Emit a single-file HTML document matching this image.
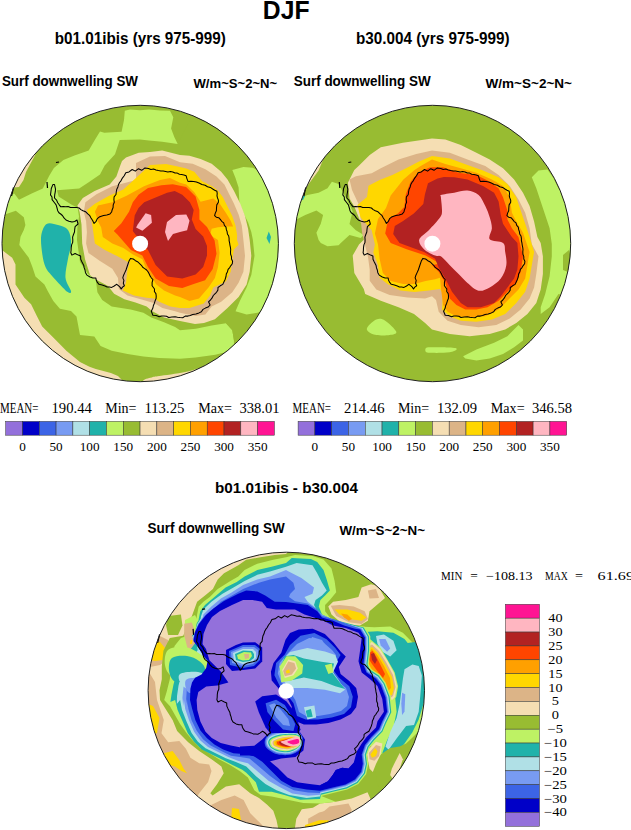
<!DOCTYPE html>
<html><head><meta charset="utf-8"><style>
html,body{margin:0;padding:0;background:#fff;width:631px;height:830px;overflow:hidden}
svg{display:block}
</style></head><body>
<svg width="631" height="830" viewBox="0 0 631 830">
<text x="262.8" y="18.8" font-family="Liberation Sans" font-size="26.5" font-weight="bold" textLength="46.7" lengthAdjust="spacingAndGlyphs">DJF</text>
<text x="54.8" y="43.8" font-family="Liberation Sans" font-size="15.6" font-weight="bold" textLength="171.0" lengthAdjust="spacingAndGlyphs">b01.01ibis (yrs 975-999)</text>
<text x="356" y="43.8" font-family="Liberation Sans" font-size="15.6" font-weight="bold" textLength="153.5" lengthAdjust="spacingAndGlyphs">b30.004 (yrs 975-999)</text>
<text x="1.9" y="85.5" font-family="Liberation Sans" font-size="13.8" font-weight="bold" textLength="136.1" lengthAdjust="spacingAndGlyphs">Surf downwelling SW</text>
<text x="193.5" y="87.7" font-family="Liberation Sans" font-size="13.3" font-weight="bold" textLength="83.7" lengthAdjust="spacingAndGlyphs">W/m~S~2~N~</text>
<text x="293.7" y="85.5" font-family="Liberation Sans" font-size="13.8" font-weight="bold" textLength="137.0" lengthAdjust="spacingAndGlyphs">Surf downwelling SW</text>
<text x="485.6" y="87.7" font-family="Liberation Sans" font-size="13.3" font-weight="bold" textLength="86.4" lengthAdjust="spacingAndGlyphs">W/m~S~2~N~</text>
<text x="215" y="492.8" font-family="Liberation Sans" font-size="15" font-weight="bold" textLength="143.0" lengthAdjust="spacingAndGlyphs">b01.01ibis - b30.004</text>
<text x="147.6" y="533.3" font-family="Liberation Sans" font-size="13.8" font-weight="bold" textLength="137.1" lengthAdjust="spacingAndGlyphs">Surf downwelling SW</text>
<text x="339.5" y="535" font-family="Liberation Sans" font-size="13.3" font-weight="bold" textLength="85.5" lengthAdjust="spacingAndGlyphs">W/m~S~2~N~</text>
<clipPath id="c1"><circle cx="140.2" cy="243.5" r="138.2"/></clipPath>
<g clip-path="url(#c1)">
<path d="M-20.0,80.0 L320.0,80.0 L320.0,420.0 L-20.0,420.0Z" fill="#98bc32"/>
<path d="M37.0,150.0 L34.9,155.4 L26.0,172.0 L23.5,180.0 L19.0,187.0 L14.0,187.5 L10.0,190.0 L-5.0,195.0 L10.0,150.0Z" fill="#f5deb3"/>
<path d="M-10.0,248.0 L3.3,251.1 L12.2,257.8 L15.5,264.4 L15.5,284.4 L24.4,297.7 L31.1,304.3 L36.6,315.4 L42.2,326.5 L55.5,339.8 L66.6,350.9 L80.0,362.0 L89.5,366.7 L95.8,369.0 L110.9,373.0 L118.0,376.0 L124.0,382.0 L124.0,400.0 L-10.0,400.0Z" fill="#f5deb3"/>
<path d="M142.3,382.0 C143.9,378.2 148.6,378.4 151.8,377.4 C155.0,376.4 154.9,376.9 161.3,375.8 C167.7,374.7 181.1,373.3 190.0,371.0 C198.9,368.7 206.7,365.5 215.0,362.0 C223.3,358.5 232.5,353.3 240.0,350.0 C247.5,346.7 253.3,344.0 260.0,342.0 C266.7,340.0 275.0,328.3 280.0,338.0 C285.0,347.7 313.0,389.7 290.0,400.0 C267.0,410.3 166.6,403.0 142.0,400.0 C117.4,397.0 140.7,385.8 142.3,382.0Z" fill="#f5deb3"/>
<path d="M177.7,144.0 L174.4,137.3 L171.1,128.4 L173.3,117.3 L170.0,110.7 L160.0,110.5 L149.0,109.6 L140.0,110.2 L130.0,109.5 L124.8,110.7 L124.0,120.0 L121.6,131.7 L104.3,132.8 L100.0,131.6 L95.1,139.5 L88.7,150.6 L74.5,155.4 L63.4,160.1 L53.9,168.0 L49.1,176.0 L42.8,188.6 L31.7,193.4 L19.0,199.7 L14.3,193.4 L6.3,196.6 L0.0,205.0 L6.3,214.0 L15.8,210.8 L23.8,217.2 L25.4,225.1 L23.8,230.0 L20.5,236.7 L19.3,245.0 L22.2,248.9 L28.8,257.8 L32.2,266.6 L35.5,276.6 L44.4,284.4 L47.7,291.0 L53.3,301.0 L59.9,308.8 L71.0,311.0 L76.5,316.5 L78.8,328.7 L80.0,335.0 L94.3,336.6 L100.6,346.1 L111.7,350.8 L127.5,354.0 L143.4,356.4 L159.2,358.0 L180.0,358.7 L195.5,357.6 L215.4,354.7 L231.0,350.7 L234.0,345.0 L233.9,340.0 L232.3,330.3 L226.0,323.2 L200.0,250.0 L180.0,180.0Z" fill="#bef264"/>
<path d="M46.6,223.9 C49.4,222.1 54.4,224.0 58.0,225.0 C61.6,226.0 65.8,226.9 68.0,230.0 C70.2,233.1 71.1,238.5 71.1,243.4 C71.1,248.3 68.8,253.5 67.9,259.2 C67.0,264.9 65.0,272.4 65.5,277.7 C66.0,283.0 70.6,288.6 71.0,291.0 C71.4,293.4 69.9,293.6 67.7,292.1 C65.5,290.6 60.5,285.1 57.7,282.2 C54.9,279.3 53.0,277.3 51.0,274.8 C49.0,272.3 47.1,270.6 45.6,267.2 C44.1,263.8 43.0,259.4 42.3,254.2 C41.6,249.0 40.5,240.9 41.2,235.8 C41.9,230.8 43.8,225.7 46.6,223.9Z" fill="#20b2aa"/>
<path d="M177.7,144.0 L162.2,141.7 L148.9,140.6 L140.0,139.5 L119.7,140.0 L115.0,154.3 L104.7,165.4 L100.0,174.4 L88.7,182.3 L79.2,188.6 L57.0,190.2 L58.6,196.6 L71.3,204.5 L77.7,207.7 L79.0,216.5 L77.4,227.5 L77.0,240.0 L80.0,262.0 L88.0,274.0 L95.8,279.5 L97.4,292.2 L102.2,300.1 L111.7,306.5 L130.7,309.6 L143.4,312.8 L151.3,317.5 L164.0,322.3 L175.1,327.1 L180.0,330.3 L195.8,328.7 L211.7,325.6 L226.0,323.2 L232.3,330.3 L233.9,340.0 L245.0,330.0 L300.0,320.0 L300.0,100.0 L200.0,100.0Z" fill="#98bc32"/>
<path d="M232.3,170.1 L243.4,166.9 L252.9,167.7 L290.0,190.0 L290.0,320.0 L270.0,308.0 L264.0,311.3 L256.1,312.9 L246.6,314.5 L235.5,311.3 L240.2,300.2 L246.6,287.5 L251.3,274.9 L254.5,255.8 L252.9,240.0 L251.3,231.9 L248.1,222.4 L243.4,212.9 L239.4,203.4 L238.6,187.5 L235.5,178.0Z" fill="#bef264"/>
<path d="M268.8,231.5 L271.0,237.0 L269.5,244.0 L266.5,238.0Z" fill="#20b2aa"/>
<path d="M126.0,157.4 L138.7,152.7 L150.0,151.9 L162.2,150.6 L180.0,155.1 L189.5,155.8 L200.6,159.0 L211.7,163.8 L221.2,171.7 L227.5,179.6 L233.9,190.7 L240.2,203.4 L245.0,216.1 L248.1,228.7 L249.7,240.0 L251.3,255.8 L249.7,271.7 L246.6,284.4 L238.6,297.1 L227.5,308.1 L214.9,319.2 L204.0,323.0 L195.0,324.0 L180.0,321.0 L164.0,317.5 L152.0,311.0 L146.6,306.5 L135.5,302.5 L124.4,299.3 L114.1,293.8 L108.0,286.0 L95.0,279.0 L90.0,275.0 L85.0,259.2 L82.2,243.4 L81.5,224.4 L79.6,211.7 L77.4,205.4 L82.8,198.0 L94.6,190.9 L109.7,184.6 L116.4,176.5 L119.7,167.0 L122.0,161.0Z" fill="#f5deb3"/>
<path d="M136.1,180.0 L136.0,163.0 L150.0,156.5 L165.0,156.0 L180.0,162.2 L192.7,163.8 L205.4,169.3 L216.5,176.5 L224.4,184.4 L229.1,193.9 L233.9,203.4 L238.6,214.5 L241.8,225.6 L243.4,240.0 L245.0,255.8 L243.4,271.7 L238.6,282.8 L232.3,292.3 L221.2,301.8 L211.7,306.6 L205.4,314.5 L195.8,316.1 L180.0,312.8 L175.1,311.2 L162.4,308.0 L154.5,303.3 L143.4,300.1 L127.5,295.4 L118.8,289.0 L118.0,277.9 L112.3,268.7 L99.6,260.8 L88.5,252.9 L86.1,243.4 L86.9,232.3 L86.1,221.2 L83.8,211.7 L85.4,202.2 L96.5,194.3 L112.3,186.3Z" fill="#dcb487"/>
<path d="M139.2,175.0 L150.0,165.0 L166.0,164.0 L180.0,166.9 L186.3,168.5 L194.3,171.7 L202.2,181.2 L211.7,186.0 L218.0,190.7 L222.8,197.1 L227.5,206.6 L232.3,216.1 L235.5,225.6 L237.1,235.1 L237.0,240.0 L238.6,244.8 L233.9,249.5 L232.3,259.0 L230.7,271.7 L226.0,281.2 L213.3,287.5 L210.1,295.5 L203.8,303.4 L189.5,308.1 L180.0,308.0 L170.3,306.5 L159.2,301.7 L154.5,298.5 L146.6,297.7 L133.9,295.4 L122.8,290.6 L126.0,282.7 L127.5,270.0 L129.7,263.0 L117.1,256.1 L104.4,249.7 L94.9,243.4 L93.3,232.3 L91.7,221.2 L86.9,210.1 L94.9,203.8 L109.1,195.8 L123.4,189.5Z" fill="#ffd700"/>
<path d="M144.0,186.3 L160.0,180.0 L170.0,178.0 L180.0,182.8 L186.3,184.4 L194.3,192.3 L200.6,201.8 L213.3,198.6 L219.6,203.4 L226.0,212.9 L230.7,220.8 L233.1,226.4 L226.0,226.4 L218.0,227.2 L211.7,228.7 L210.1,235.1 L218.0,240.0 L219.6,252.7 L218.0,266.9 L214.9,278.0 L208.5,287.5 L199.0,298.6 L189.5,301.0 L180.0,297.0 L175.1,295.4 L164.0,290.6 L156.1,284.3 L151.3,276.3 L146.6,270.0 L142.4,259.2 L132.9,254.5 L123.4,248.1 L112.3,243.4 L102.8,237.1 L101.2,227.5 L98.0,221.2 L94.9,211.7 L98.0,205.4 L112.3,202.2 L126.6,195.8Z" fill="#ffa000"/>
<path d="M138.5,194.7 L148.0,188.1 L161.4,185.2 L172.8,184.3 L186.1,187.1 L195.6,196.6 L199.4,209.9 L199.4,219.4 L207.0,227.1 L214.6,240.4 L216.5,253.7 L212.7,268.9 L205.1,280.3 L193.7,284.1 L182.3,287.9 L169.0,286.0 L155.6,278.4 L148.0,267.0 L142.3,255.6 L130.9,249.9 L117.6,234.7 L113.8,230.9 L121.4,223.3 L129.0,211.8 L132.8,202.3Z" fill="#ff4500"/>
<path d="M144.2,202.3 L155.6,197.6 L167.1,192.8 L174.7,190.9 L182.3,194.7 L189.9,202.3 L193.7,209.9 L191.8,219.4 L195.6,229.0 L203.2,236.6 L207.0,246.1 L207.0,255.6 L203.2,267.0 L195.6,274.6 L182.3,278.4 L167.1,276.5 L155.6,265.1 L148.0,249.9 L138.5,238.5 L132.8,230.9 L134.7,215.6 L138.5,208.0Z" fill="#b22222"/>
<path d="M137.7,224.4 L145.6,213.3 L151.1,214.9 L151.9,222.8 L142.4,230.7 L136.1,227.5Z" fill="#ffb6c1"/>
<path d="M167.0,222.0 L176.0,215.0 L186.3,214.5 L189.5,220.8 L187.1,230.3 L180.0,231.9 L173.0,234.0 L168.0,241.0 L165.0,232.0Z" fill="#ffb6c1"/>
</g>
<path d="M54.5,184.5 L55.0,186.9 L55.5,189.2 L55.3,191.7 L54.7,194.8 L54.5,198.0 L56.6,200.1 L57.7,202.8 L59.2,204.8 L60.8,206.8 L63.2,206.6 L65.6,206.8 L68.1,206.5 L70.4,207.5 L73.6,207.5 L76.7,207.5 L79.1,208.0 L80.9,209.6 L83.0,210.7 L85.7,211.8 L87.8,213.9 L89.8,215.7 L91.0,218.0 L92.5,220.2 L94.1,223.4 L96.1,221.3 L97.3,218.6 L99.2,217.1 L101.3,216.2 L103.6,215.5 L106.8,214.9 L110.0,213.9 L111.6,212.0 L112.2,209.7 L113.1,207.5 L113.2,204.9 L114.3,202.3 L113.9,199.6 L114.1,196.8 L116.0,194.5 L116.3,191.7 L116.8,189.2 L117.9,186.9 L118.5,184.6 L119.6,182.5 L121.1,180.6 L122.4,178.1 L124.2,175.8 L125.8,172.7 L129.0,171.9 L132.2,169.5 L135.3,171.1 L138.5,168.7 L141.7,170.3 L145.0,167.9 L148.5,168.5 L150.9,169.4 L153.6,169.1 L156.0,170.0 L158.4,170.5 L160.8,170.9 L163.2,170.9 L165.6,171.4 L167.9,171.9 L170.4,171.6 L172.8,172.0 L175.0,173.0 L177.3,173.1 L179.4,174.3 L181.7,174.5 L183.9,174.9 L186.1,175.7 L186.9,178.6 L188.0,181.4 L190.8,181.3 L193.7,181.4 L196.4,181.9 L199.0,183.0 L201.9,184.5 L205.1,185.2 L207.5,186.7 L210.3,187.4 L212.7,189.0 L214.7,190.2 L216.9,191.3 L217.2,193.5 L217.0,195.8 L217.5,197.9 L218.4,200.1 L218.4,202.3 L216.8,204.9 L216.5,208.0 L216.4,210.7 L215.3,213.1 L214.6,215.6 L216.3,217.2 L218.7,217.7 L220.3,219.4 L221.7,221.3 L223.7,222.9 L224.4,225.3 L226.0,227.1 L226.3,229.4 L227.1,231.6 L227.4,234.0 L228.7,236.0 L229.1,238.3 L229.1,240.6 L229.6,242.8 L229.9,245.0 L230.4,247.3 L230.7,249.5 L230.5,251.9 L230.6,254.3 L231.5,256.6 L231.5,259.1 L232.6,261.3 L232.3,263.8 L230.9,265.6 L229.7,267.6 L228.1,269.4 L227.5,271.7 L226.3,274.0 L226.0,276.5 L225.2,279.2 L224.0,281.8 L222.8,284.4 L220.3,285.8 L218.0,287.5 L217.9,290.1 L216.5,292.3 L214.9,293.9 L213.3,295.5 L212.1,297.9 L210.5,300.0 L208.5,301.8 L210.1,305.0 L208.1,307.1 L205.4,308.1 L203.0,309.4 L201.4,311.7 L199.0,312.9 L195.9,314.0 L192.7,314.5 L190.3,315.4 L187.9,316.1 L185.2,316.1 L182.7,317.7 L180.0,317.6 L177.5,317.3 L175.1,316.8 L171.9,317.1 L168.7,317.5 L166.5,316.2 L164.0,316.0 L161.5,316.0 L159.2,316.8 L156.2,315.5 L152.9,315.2 L151.3,311.2 L152.9,308.0 L153.4,305.5 L154.4,303.2 L155.1,300.8 L156.1,298.5 L156.2,296.0 L155.9,293.6 L154.4,291.5 L154.5,289.0 L152.1,285.8 L152.1,282.6 L152.9,279.5 L151.3,277.8 L150.1,275.9 L149.1,273.8 L148.0,271.8 L146.6,270.0 L144.7,268.6 L142.7,267.3 L141.4,265.3 L139.6,263.7 L138.0,262.0 L135.5,260.7 L133.3,259.0 L130.5,258.4 L129.0,261.1 L128.0,264.0 L127.0,267.0 L126.0,270.0 L124.8,272.6 L123.6,275.2 L122.8,277.9 L123.9,280.4 L123.3,283.3 L124.4,285.8 L122.5,287.1 L121.2,289.0 L120.0,287.1 L118.4,285.6 L116.5,284.3 L114.2,286.0 L111.7,287.4 L109.4,287.1 L107.1,287.0 L105.0,286.0 L102.1,285.0 L99.0,284.3 L97.4,282.4 L96.3,280.3 L95.8,277.9 L92.8,277.9 L90.0,277.0 L86.9,275.1 L85.5,272.7 L85.0,270.0 L84.2,267.9 L83.8,265.6 L82.0,262.0 L80.7,259.2 L80.6,256.1 L78.3,255.1 L75.1,253.5 L71.9,255.1 L70.8,252.8 L71.1,250.3 L71.2,247.6 L71.6,244.9 L72.7,242.4 L72.8,239.7 L72.6,237.1 L73.5,234.5 L74.5,232.0 L74.7,229.3 L75.1,226.6 L78.0,224.0 L77.0,220.0 L74.7,221.5 L72.0,222.0 L68.9,221.3 L66.0,220.0 L64.0,217.9 L62.4,215.5 L60.7,214.0 L58.9,212.7 L57.7,210.7 L56.9,207.5 L56.1,204.9 L54.5,202.8 L52.1,199.6 L52.0,197.0 L50.5,194.9 L50.9,191.7 L51.3,188.5 L52.9,184.6Z" fill="none" stroke="#000" stroke-width="1.05" stroke-linejoin="round"/><path d="M56.0,162.5 L59.0,162.0" stroke="#000" stroke-width="1.2"/><path d="M47.0,182.0 L47.5,188.0" stroke="#000" stroke-width="1.2"/><path d="M13.5,187.5 L11.5,196.0" stroke="#000" stroke-width="1.2"/><circle cx="140.1" cy="243.7" r="8" fill="#fff"/>
<circle cx="140.2" cy="243.5" r="138.2" fill="none" stroke="#222" stroke-width="1"/>
<clipPath id="c2"><circle cx="432.5" cy="243.5" r="138.2"/></clipPath>
<g clip-path="url(#c2)">
<path d="M280.0,80.0 L600.0,80.0 L600.0,420.0 L280.0,420.0Z" fill="#98bc32"/>
<path d="M326.0,150.0 L323.1,159.5 L318.6,170.6 L312.0,179.4 L306.4,187.2 L298.0,190.0 L300.0,150.0Z" fill="#f5deb3"/>
<path d="M296.0,199.0 L300.9,197.2 L307.5,195.0 L318.6,192.7 L327.5,188.3 L331.9,181.7 L338.6,183.9 L346.3,198.5 L352.7,211.2 L351.1,217.5 L349.5,223.9 L355.8,230.2 L363.8,235.0 L360.6,238.1 L349.5,235.0 L340.8,243.0 L338.6,245.2 L327.5,246.3 L320.8,243.0 L318.6,240.0 L316.4,232.7 L320.8,223.8 L323.1,214.9 L316.4,210.5 L305.3,214.9 L296.4,219.4 L285.0,215.0Z" fill="#bef264"/>
<path d="M300.0,195.0 L305.0,196.0 L303.0,200.0 L299.0,200.0Z" fill="#20b2aa"/>
<path d="M432.0,138.4 L445.3,139.5 L460.8,145.0 L476.4,152.8 L489.7,159.5 L503.0,168.3 L514.1,179.4 L523.0,192.7 L529.6,206.1 L534.1,221.6 L537.4,237.1 L540.7,243.0 L542.9,256.3 L542.9,274.1 L540.7,289.6 L536.3,302.9 L527.4,314.0 L516.3,322.9 L505.2,329.5 L489.7,334.0 L469.7,336.2 L449.8,334.0 L432.0,329.5 L425.1,322.9 L414.0,314.0 L398.5,307.3 L380.8,300.7 L365.2,294.0 L363.8,288.9 L354.3,273.0 L352.7,255.6 L359.0,244.5 L370.1,233.4 L360.6,222.3 L354.3,206.5 L349.5,198.5 L347.9,182.7 L354.3,170.0 L358.6,166.1 L369.7,155.0 L380.8,147.3 L402.9,142.8Z" fill="#f5deb3"/>
<path d="M432.0,150.6 L449.8,152.8 L467.5,159.5 L485.3,166.1 L498.6,175.0 L509.7,186.1 L518.5,199.4 L525.2,212.7 L529.6,228.3 L531.8,244.0 L538.5,256.3 L536.3,274.1 L534.1,287.4 L529.6,298.5 L520.7,309.6 L509.7,318.4 L496.3,325.1 L478.6,327.3 L460.8,325.1 L447.5,320.7 L438.7,311.8 L436.0,300.0 L432.0,296.3 L425.1,298.5 L407.4,297.4 L389.6,295.1 L376.3,289.6 L369.7,280.7 L369.7,269.6 L368.0,257.0 L362.2,233.4 L359.0,204.9 L352.0,190.0 L349.5,179.5 L355.8,176.3 L371.7,173.2 L380.8,168.3 L398.5,159.5 L416.3,153.9Z" fill="#dcb487"/>
<path d="M432.0,156.1 L449.8,158.4 L467.5,165.0 L483.0,170.6 L498.6,177.2 L507.4,183.9 L516.3,197.2 L520.7,210.5 L525.2,223.8 L529.6,237.1 L534.1,251.9 L531.8,265.2 L529.6,278.5 L525.2,291.8 L516.3,302.9 L505.2,314.0 L491.9,319.5 L476.4,321.8 L460.8,320.7 L449.8,316.2 L442.0,309.6 L443.1,294.0 L440.0,288.9 L428.8,290.4 L414.5,292.0 L400.2,290.4 L387.5,284.1 L379.6,277.8 L378.0,265.1 L373.3,252.4 L374.9,244.5 L371.7,230.2 L360.6,217.5 L357.4,204.9 L367.0,197.0 L368.5,185.8 L379.6,180.0 L392.3,175.0 L406.6,168.0 L418.5,161.7Z" fill="#ffd700"/>
<path d="M432.0,159.5 L445.3,163.9 L460.8,168.3 L476.4,172.8 L491.9,179.4 L503.0,186.1 L509.7,197.2 L511.9,212.7 L516.3,221.6 L523.0,232.7 L529.6,251.9 L527.4,265.2 L525.2,278.5 L518.5,289.6 L507.4,300.7 L498.6,309.6 L485.3,316.2 L469.7,317.3 L456.4,316.2 L447.5,311.8 L443.1,305.1 L440.9,287.4 L440.0,277.8 L435.1,279.3 L425.6,280.9 L414.5,284.1 L403.4,284.1 L390.7,280.9 L382.8,273.0 L379.6,258.7 L378.0,244.5 L374.9,233.4 L378.0,219.1 L386.0,208.0 L390.7,195.4 L403.4,179.5 L414.5,170.0 L420.7,166.1Z" fill="#ffa000"/>
<path d="M432.0,167.2 L443.1,167.2 L458.6,172.8 L476.4,175.0 L487.5,180.5 L498.6,188.3 L503.0,197.2 L507.4,210.5 L507.4,219.4 L511.9,228.3 L518.5,237.1 L523.0,256.3 L520.7,271.8 L516.3,282.9 L507.4,291.8 L498.6,300.7 L487.5,307.3 L476.4,309.6 L465.3,309.6 L456.4,305.1 L449.8,298.5 L445.3,282.9 L438.7,271.8 L432.0,265.2 L440.0,263.5 L425.6,255.6 L406.6,249.2 L390.7,242.9 L385.2,233.4 L387.5,222.3 L390.0,218.0 L397.9,213.4 L404.3,207.1 L405.8,194.4 L410.6,181.7 L418.5,172.2 L429.6,167.4Z" fill="#ff4500"/>
<path d="M443.9,176.9 L454.2,177.2 L467.5,179.4 L483.0,186.1 L494.1,192.7 L498.6,201.6 L500.8,214.9 L503.0,223.8 L507.4,230.5 L511.9,237.1 L517.4,243.0 L518.5,256.3 L517.4,269.6 L514.1,278.5 L507.4,287.4 L500.8,296.3 L494.1,302.9 L480.8,307.3 L467.5,307.3 L460.8,302.9 L452.0,291.8 L445.3,278.5 L438.7,267.4 L435.1,258.7 L424.0,252.0 L413.0,248.0 L399.5,243.0 L393.2,234.0 L394.8,226.1 L402.7,221.3 L413.8,213.4 L423.3,203.9 L424.9,194.4 L428.0,183.3 L437.5,178.5Z" fill="#b22222"/>
<path d="M440.9,195.0 C443.1,194.2 449.8,193.4 454.2,192.7 C458.6,191.9 463.4,190.1 467.5,190.5 C471.6,190.9 475.6,192.4 478.6,195.0 C481.6,197.6 483.5,202.4 485.3,206.1 C487.1,209.8 488.6,213.5 489.7,217.2 C490.8,220.9 491.9,224.6 491.9,228.3 C491.9,232.0 487.8,236.9 489.7,239.3 C491.6,241.8 500.4,240.9 503.0,243.0 C505.6,245.1 504.6,248.2 505.2,251.9 C505.8,255.6 507.0,260.8 506.3,265.2 C505.6,269.6 503.6,274.8 500.8,278.5 C498.0,282.2 493.4,285.4 489.7,287.4 C486.0,289.4 482.3,291.4 478.6,290.7 C474.9,290.0 470.8,285.8 467.5,283.0 C464.2,280.2 461.6,277.1 458.6,274.1 C455.7,271.1 452.8,268.2 449.8,265.2 C446.9,262.2 443.3,257.9 440.9,256.3 C438.4,254.7 437.9,256.8 435.1,255.6 C432.3,254.4 426.6,251.8 424.0,249.2 C421.4,246.5 418.4,242.9 419.2,239.7 C420.0,236.5 425.3,233.9 428.8,230.2 C432.3,226.5 437.8,220.8 440.0,217.5 C442.2,214.2 441.9,213.9 442.0,210.5 C442.1,207.1 441.1,199.8 440.9,197.2 C440.7,194.6 438.7,195.8 440.9,195.0Z" fill="#ffb6c1"/>
<path d="M300.0,291.0 L306.0,305.0 L303.0,306.0 L296.0,292.0Z" fill="#f5deb3"/>
<path d="M531.8,177.2 L538.5,170.6 L547.4,169.5 L552.9,177.2 L558.5,188.3 L570.0,200.0 L580.0,300.0 L558.5,294.0 L549.6,307.3 L540.7,314.0 L540.7,307.3 L545.2,294.0 L549.6,276.3 L551.8,256.3 L551.8,244.0 L549.6,228.3 L545.2,214.9 L540.7,201.6 L536.3,188.3Z" fill="#bef264"/>
<path d="M563.0,255.0 L569.0,250.0 L572.0,262.0 L568.0,272.0 L563.0,270.0Z" fill="#98bc32"/>
<path d="M367.4,327.3 C368.7,325.2 373.3,320.6 376.3,319.5 C379.3,318.4 381.9,318.6 385.2,320.7 C388.5,322.8 395.6,329.4 396.3,331.8 C397.0,334.2 392.9,334.6 389.6,335.1 C386.3,335.7 379.8,335.7 376.3,335.1 C372.8,334.6 370.0,333.1 368.5,331.8 C367.0,330.5 366.1,329.4 367.4,327.3Z" fill="#bef264"/>
<path d="M463.1,356.2 L476.4,349.5 L494.1,342.8 L507.4,336.2 L518.5,325.1 L523.0,329.5 L523.0,340.6 L514.1,347.3 L503.0,354.0 L489.7,358.4 L476.4,360.6 L465.3,358.4Z" fill="#bef264"/>
<path d="M426.0,348.0 C427.0,347.2 429.1,347.4 432.0,347.3 C434.9,347.2 439.0,347.1 443.1,347.3 C447.2,347.5 454.9,347.7 456.4,348.4 C457.9,349.1 454.6,351.0 452.0,351.7 C449.4,352.4 444.2,352.6 440.9,352.8 C437.6,353.0 434.5,352.9 432.0,352.8 C429.5,352.7 427.0,352.8 426.0,352.0 C425.0,351.2 425.0,348.8 426.0,348.0Z" fill="#bef264"/>
</g>
<path d="M346.8,184.5 L347.3,186.9 L347.8,189.2 L347.6,191.7 L347.0,194.8 L346.8,198.0 L348.9,200.1 L350.0,202.8 L351.5,204.8 L353.1,206.8 L355.5,206.6 L357.9,206.8 L360.4,206.5 L362.7,207.5 L365.9,207.5 L369.0,207.5 L371.4,208.0 L373.2,209.6 L375.3,210.7 L378.0,211.8 L380.1,213.9 L382.1,215.7 L383.3,218.0 L384.8,220.2 L386.4,223.4 L388.4,221.3 L389.6,218.6 L391.5,217.1 L393.6,216.2 L395.9,215.5 L399.1,214.9 L402.3,213.9 L403.9,212.0 L404.5,209.7 L405.4,207.5 L405.5,204.9 L406.6,202.3 L406.2,199.6 L406.4,196.8 L408.3,194.5 L408.6,191.7 L409.1,189.2 L410.2,186.9 L410.8,184.6 L411.9,182.5 L413.4,180.6 L414.7,178.1 L416.5,175.8 L418.1,172.7 L421.3,171.9 L424.5,169.5 L427.6,171.1 L430.8,168.7 L434.0,170.3 L437.3,167.9 L440.8,168.5 L443.2,169.4 L445.9,169.1 L448.3,170.0 L450.7,170.5 L453.1,170.9 L455.5,170.9 L457.9,171.4 L460.2,171.9 L462.7,171.6 L465.1,172.0 L467.3,173.0 L469.6,173.1 L471.7,174.3 L474.0,174.5 L476.2,174.9 L478.4,175.7 L479.2,178.6 L480.3,181.4 L483.1,181.3 L486.0,181.4 L488.7,181.9 L491.3,183.0 L494.2,184.5 L497.4,185.2 L499.8,186.7 L502.6,187.4 L505.0,189.0 L507.0,190.2 L509.2,191.3 L509.5,193.5 L509.3,195.8 L509.8,197.9 L510.7,200.1 L510.7,202.3 L509.1,204.9 L508.8,208.0 L508.7,210.7 L507.6,213.1 L506.9,215.6 L508.6,217.2 L511.0,217.7 L512.6,219.4 L514.0,221.3 L516.0,222.9 L516.7,225.3 L518.3,227.1 L518.6,229.4 L519.4,231.6 L519.7,234.0 L521.0,236.0 L521.4,238.3 L521.4,240.6 L521.9,242.8 L522.2,245.0 L522.7,247.3 L523.0,249.5 L522.8,251.9 L522.9,254.3 L523.8,256.6 L523.8,259.1 L524.9,261.3 L524.6,263.8 L523.2,265.6 L522.0,267.6 L520.4,269.4 L519.8,271.7 L518.6,274.0 L518.3,276.5 L517.5,279.2 L516.3,281.8 L515.1,284.4 L512.6,285.8 L510.3,287.5 L510.2,290.1 L508.8,292.3 L507.2,293.9 L505.6,295.5 L504.4,297.9 L502.8,300.0 L500.8,301.8 L502.4,305.0 L500.4,307.1 L497.7,308.1 L495.3,309.4 L493.7,311.7 L491.3,312.9 L488.2,314.0 L485.0,314.5 L482.6,315.4 L480.2,316.1 L477.5,316.1 L475.0,317.7 L472.3,317.6 L469.8,317.3 L467.4,316.8 L464.2,317.1 L461.0,317.5 L458.8,316.2 L456.3,316.0 L453.8,316.0 L451.5,316.8 L448.5,315.5 L445.2,315.2 L443.6,311.2 L445.2,308.0 L445.7,305.5 L446.7,303.2 L447.4,300.8 L448.4,298.5 L448.5,296.0 L448.2,293.6 L446.7,291.5 L446.8,289.0 L444.4,285.8 L444.4,282.6 L445.2,279.5 L443.6,277.8 L442.4,275.9 L441.4,273.8 L440.3,271.8 L438.9,270.0 L437.0,268.6 L435.0,267.3 L433.7,265.3 L431.9,263.7 L430.3,262.0 L427.8,260.7 L425.6,259.0 L422.8,258.4 L421.3,261.1 L420.3,264.0 L419.3,267.0 L418.3,270.0 L417.1,272.6 L415.9,275.2 L415.1,277.9 L416.2,280.4 L415.6,283.3 L416.7,285.8 L414.8,287.1 L413.5,289.0 L412.3,287.1 L410.7,285.6 L408.8,284.3 L406.5,286.0 L404.0,287.4 L401.7,287.1 L399.4,287.0 L397.3,286.0 L394.4,285.0 L391.3,284.3 L389.7,282.4 L388.6,280.3 L388.1,277.9 L385.1,277.9 L382.3,277.0 L379.2,275.1 L377.8,272.7 L377.3,270.0 L376.5,267.9 L376.1,265.6 L374.3,262.0 L373.0,259.2 L372.9,256.1 L370.6,255.1 L367.4,253.5 L364.2,255.1 L363.1,252.8 L363.4,250.3 L363.5,247.6 L363.9,244.9 L365.0,242.4 L365.1,239.7 L364.9,237.1 L365.8,234.5 L366.8,232.0 L367.0,229.3 L367.4,226.6 L370.3,224.0 L369.3,220.0 L367.0,221.5 L364.3,222.0 L361.2,221.3 L358.3,220.0 L356.3,217.9 L354.7,215.5 L353.0,214.0 L351.2,212.7 L350.0,210.7 L349.2,207.5 L348.4,204.9 L346.8,202.8 L344.4,199.6 L344.3,197.0 L342.8,194.9 L343.2,191.7 L343.6,188.5 L345.2,184.6Z" fill="none" stroke="#000" stroke-width="1.05" stroke-linejoin="round"/><path d="M348.3,162.5 L351.3,162.0" stroke="#000" stroke-width="1.2"/><path d="M339.3,182.0 L339.8,188.0" stroke="#000" stroke-width="1.2"/><path d="M305.8,187.5 L303.8,196.0" stroke="#000" stroke-width="1.2"/><circle cx="432.4" cy="243.7" r="8" fill="#fff"/>
<circle cx="432.5" cy="243.5" r="138.2" fill="none" stroke="#222" stroke-width="1"/>
<clipPath id="c3"><circle cx="286.3" cy="690.4" r="138.2"/></clipPath>
<g clip-path="url(#c3)">
<path d="M140.0,540.0 L440.0,540.0 L440.0,840.0 L140.0,840.0Z" fill="#f5deb3"/>
<path d="M150.0,640.0 L154.0,634.9 L160.0,636.0 L168.0,640.0 L167.7,660.0 L160.0,665.0 L150.0,667.0Z" fill="#dcb487"/>
<path d="M153.5,641.0 L160.0,642.0 L165.0,648.0 L163.0,660.0 L155.0,661.0 L150.0,660.0Z" fill="#ffd700"/>
<path d="M140.0,670.0 L149.0,672.0 L155.0,682.0 L157.0,700.0 L163.8,720.0 L161.5,733.3 L168.2,742.2 L179.3,741.1 L185.9,748.8 L190.4,757.7 L199.2,763.3 L209.2,764.4 L211.5,771.0 L208.1,782.1 L199.2,793.2 L195.0,800.0 L140.0,800.0Z" fill="#dcb487"/>
<path d="M148.0,704.0 L153.0,706.0 L159.5,718.0 L157.0,733.0 L150.0,735.0Z" fill="#ffd700"/>
<path d="M163.8,753.3 L172.6,751.1 L179.3,760.0 L183.7,768.8 L187.0,773.3 L181.5,771.0 L174.8,766.6 L168.2,764.4Z" fill="#ffd700"/>
<path d="M197.0,797.0 L208.1,806.5 L221.4,799.9 L234.7,795.4 L243.6,799.9 L250.3,813.2 L261.4,824.3 L270.3,835.0 L190.0,835.0Z" fill="#dcb487"/>
<path d="M232.0,808.0 L239.0,809.0 L241.0,820.0 L231.0,822.0Z" fill="#ffd700"/>
<path d="M308.1,818.7 L319.2,812.4 L331.9,809.2 L340.0,807.7 L345.0,812.0 L342.0,825.0 L338.0,835.0 L308.1,835.0Z" fill="#dcb487"/>
<path d="M320.0,814.5 L329.5,806.6 L348.5,803.4 L351.7,809.7 L350.1,816.1 L335.8,819.2 L320.0,822.4Z" fill="#dcb487"/>
<path d="M305.0,825.1 L319.2,820.3 L328.7,820.3 L328.7,835.0 L305.0,835.0Z" fill="#ffd700"/>
<path d="M286.0,553.9 L300.0,540.0 L460.0,540.0 L460.0,840.0 L372.0,840.0 L371.0,800.0 L367.5,792.3 L351.7,798.6 L335.8,801.8 L320.0,803.4 L312.9,807.7 L301.8,809.2 L296.3,818.7 L293.9,835.0 L279.6,835.0 L276.5,820.3 L273.3,810.8 L266.9,804.5 L259.0,798.1 L250.3,793.2 L239.2,784.3 L225.9,786.6 L212.6,795.4 L210.3,793.2 L217.0,784.3 L223.7,773.3 L221.4,766.6 L212.6,759.9 L199.2,751.1 L188.2,742.2 L177.1,731.1 L172.6,720.0 L165.0,708.0 L160.0,700.0 L159.5,690.3 L161.8,679.2 L161.8,666.6 L163.4,650.7 L169.8,638.0 L183.2,635.7 L192.0,615.8 L197.1,601.7 L205.0,595.4 L212.9,589.0 L217.7,579.5 L224.0,573.2 L238.3,565.3 L246.2,559.7 L260.5,557.3 L274.7,555.0Z" fill="#98bc32"/>
<path d="M168.2,616.0 L180.9,614.4 L182.5,625.5 L178.0,635.0 L168.2,634.9 L166.0,625.0Z" fill="#98bc32"/>
<path d="M328.3,606.5 L333.1,601.7 L345.7,600.1 L358.4,597.0 L361.6,587.5 L371.1,584.3 L378.0,586.0 L385.0,598.0 L369.5,611.2 L367.9,620.7 L360.0,625.5 L342.6,623.9 L331.5,614.4Z" fill="#f5deb3"/>
<path d="M367.9,590.6 L376.0,589.0 L379.0,598.0 L369.5,598.5Z" fill="#dcb487"/>
<path d="M330.7,605.7 L339.4,604.9 L353.7,606.5 L364.7,611.2 L367.9,619.1 L361.6,623.9 L348.9,622.3 L336.2,616.0Z" fill="#dcb487"/>
<path d="M334.6,609.6 L347.3,609.6 L360.0,612.8 L366.3,617.6 L361.6,620.7 L348.9,619.1 L339.4,614.4Z" fill="#ffd700"/>
<path d="M341.0,613.6 L347.3,614.4 L352.1,619.1 L348.9,620.7 L344.1,617.6Z" fill="#ffa000"/>
<path d="M352.0,626.0 L358.5,626.5 L374.4,627.2 L390.2,626.5 L402.9,632.8 L412.0,642.0 L420.0,660.0 L430.0,700.0 L430.0,760.0 L420.0,770.0 L385.0,760.0 L370.0,745.0 L372.0,700.0 L368.0,660.0 L360.0,640.0Z" fill="#bef264"/>
<path d="M364.0,632.0 L377.5,631.2 L393.4,632.8 L404.5,639.1 L407.7,643.0 L415.0,642.0 L432.0,660.0 L432.0,700.0 L425.1,700.0 L423.5,703.8 L418.7,719.6 L412.4,732.3 L404.5,743.4 L395.0,754.5 L385.5,759.2 L382.3,752.9 L387.1,740.2 L393.4,727.5 L396.6,711.7 L395.0,695.8 L385.0,685.0 L370.0,670.0 L366.0,650.0Z" fill="#20b2aa"/>
<path d="M376.0,636.0 L383.9,634.4 L393.4,640.7 L396.6,650.2 L390.2,656.6 L382.3,651.8 L377.5,643.9Z" fill="#b0e0e6"/>
<path d="M379.1,639.1 L385.5,639.1 L390.2,648.6 L387.1,651.8 L380.7,645.5Z" fill="#789bf2"/>
<path d="M404.5,669.2 L412.4,664.5 L418.7,666.1 L421.9,675.6 L420.3,695.8 L418.7,711.7 L414.0,725.0 L406.1,726.0 L396.6,738.6 L388.6,749.7 L385.5,746.6 L390.2,732.3 L396.6,718.0 L399.7,703.8 L402.9,678.7Z" fill="#b0e0e6"/>
<path d="M402.1,692.7 L405.3,694.3 L404.5,711.7 L402.1,714.9 L401.3,703.8Z" fill="#789bf2"/>
<path d="M361.5,642.7 L370.2,639.2 L380.7,647.9 L387.6,660.1 L394.6,672.3 L398.1,686.2 L396.3,696.7 L391.1,703.7 L384.1,701.9 L377.2,689.7 L370.2,677.5 L363.2,667.1 L359.7,654.9Z" fill="#bef264"/>
<path d="M366.0,645.0 L372.0,642.0 L380.0,649.0 L387.0,660.0 L394.0,673.0 L397.0,686.0 L395.0,697.0 L390.0,702.0 L384.0,699.0 L377.0,688.0 L370.0,676.0 L364.0,666.0 L362.0,655.0Z" fill="#f5deb3"/>
<path d="M367.0,647.0 L372.0,644.5 L379.0,651.0 L386.0,662.0 L393.0,675.0 L395.5,687.0 L393.0,696.0 L389.0,699.0 L384.0,695.0 L378.0,686.0 L371.0,675.0 L365.5,665.0 L364.0,656.0Z" fill="#dcb487"/>
<path d="M368.0,649.0 L372.0,647.0 L378.0,653.0 L385.0,664.0 L392.0,677.0 L394.0,688.0 L392.0,695.0 L388.0,696.0 L384.0,690.0 L378.0,683.0 L372.0,673.0 L367.0,664.0 L366.0,657.0Z" fill="#ffd700"/>
<path d="M368.5,651.0 L372.0,649.0 L378.0,656.0 L384.0,666.0 L390.0,678.0 L391.0,688.0 L388.0,691.0 L384.0,685.0 L378.0,678.0 L371.0,668.0 L367.0,660.0Z" fill="#ffa000"/>
<path d="M368.5,653.0 L372.5,651.0 L377.0,658.0 L381.0,666.0 L385.0,674.0 L383.0,678.0 L378.0,672.0 L372.0,664.0 L368.0,658.0Z" fill="#ff4500"/>
<path d="M371.0,654.0 L374.0,653.0 L377.0,660.0 L375.0,664.0 L372.0,660.0Z" fill="#b22222"/>
<path d="M382.0,695.0 L392.0,700.0 L392.0,715.0 L385.0,735.0 L378.0,745.0 L370.0,745.0 L372.0,725.0 L378.0,705.0Z" fill="#bef264"/>
<path d="M377.5,785.0 L374.4,765.6 L380.7,754.5 L390.2,748.1 L399.7,746.6 L406.1,743.4 L412.0,738.0 L420.0,730.0 L440.0,740.0 L440.0,800.0 L393.4,800.0Z" fill="#98bc32"/>
<path d="M391.8,768.7 L399.7,752.9 L402.9,759.2 L399.7,768.7 L393.4,780.0 L390.2,775.1Z" fill="#f5deb3"/>
<path d="M366.5,751.3 L376.0,741.8 L382.3,743.4 L380.7,754.5 L376.0,764.0 L372.8,771.9 L369.6,768.7 L368.0,760.8Z" fill="#f5deb3"/>
<path d="M368.8,752.9 L376.0,745.0 L380.7,746.6 L379.1,756.1 L374.4,760.8 L369.6,759.2Z" fill="#dcb487"/>
<path d="M370.4,754.5 L375.2,748.1 L377.5,751.3 L376.0,756.1 L372.0,757.7Z" fill="#ffd700"/>
<path d="M286.0,557.3 L295.0,555.0 L312.5,556.0 L323.5,559.5 L331.5,568.4 L334.6,581.1 L336.2,592.2 L329.9,600.1 L325.1,604.9 L325.1,611.2 L329.9,617.6 L339.4,622.3 L352.1,625.5 L364.8,626.7 L370.3,636.3 L370.4,650.5 L368.8,664.1 L370.6,668.7 L379.7,674.6 L385.6,682.6 L390.8,696.1 L392.6,712.4 L387.3,723.5 L383.6,732.2 L375.3,740.8 L369.7,747.6 L367.2,755.1 L368.3,764.0 L366.1,774.2 L358.3,783.9 L347.2,789.6 L334.0,792.8 L321.3,796.0 L335.8,801.8 L320.0,803.4 L303.4,802.9 L287.5,799.7 L271.7,796.6 L260.6,795.0 L254.3,790.2 L247.9,777.5 L240.0,771.2 L229.6,764.7 L219.4,759.6 L209.3,753.2 L200.4,748.2 L192.8,740.6 L186.5,733.0 L180.1,724.1 L175.1,715.2 L170.0,706.3 L164.2,700.0 L166.6,691.9 L169.8,679.2 L172.1,663.4 L174.5,646.0 L180.9,638.0 L195.1,633.3 L196.0,622.3 L197.1,614.4 L198.7,606.5 L203.4,601.7 L209.8,597.0 L217.7,589.0 L230.4,581.1 L238.3,576.4 L244.6,570.0 L257.3,563.7 L273.2,559.7Z" fill="#bef264"/>
<path d="M185.0,620.0 L195.0,615.0 L200.0,625.0 L200.0,650.0 L196.0,665.0 L190.0,668.0 L184.0,650.0Z" fill="#bef264"/>
<path d="M184.2,623.8 L191.8,622.5 L194.4,630.1 L195.6,640.3 L198.2,647.9 L203.2,655.5 L200.7,660.6 L194.4,661.8 L189.3,655.5 L186.8,645.4 L184.2,635.2Z" fill="#dcb487"/>
<path d="M190.5,640.0 L192.5,640.0 L192.0,644.0 L190.0,644.0Z" fill="#ffd700"/>
<path d="M195.6,654.0 L198.0,654.0 L197.5,659.0 L195.0,659.0Z" fill="#ffd700"/>
<path d="M286.0,562.9 L291.8,558.1 L310.9,558.9 L317.2,562.1 L323.5,570.0 L326.7,579.5 L329.9,590.6 L325.1,595.4 L320.4,600.1 L318.8,606.5 L322.0,614.4 L331.5,619.1 L363.7,627.4 L369.0,636.5 L369.1,650.4 L367.5,664.2 L369.6,669.6 L378.8,675.6 L384.4,683.2 L389.6,696.4 L391.3,712.3 L386.1,723.0 L382.5,731.5 L374.3,739.9 L368.6,747.0 L365.9,755.0 L367.0,763.9 L365.0,773.6 L357.5,782.9 L346.8,788.4 L333.7,791.6 L321.0,794.8 L320.0,799.0 L300.2,799.7 L284.4,795.0 L271.7,791.8 L259.0,791.8 L255.8,782.3 L246.3,772.8 L242.3,769.7 L232.1,764.7 L222.0,759.6 L211.8,754.5 L201.7,749.4 L194.1,741.8 L187.7,733.0 L182.7,721.6 L177.6,710.1 L175.1,700.0 L170.4,702.0 L171.5,694.5 L173.5,684.5 L174.7,679.9 L175.9,674.9 L177.8,671.1 L179.6,664.4 L197.9,639.2 L196.9,638.2 L194.7,636.8 L191.8,636.0 L195.2,632.0 L196.6,623.8 L198.2,620.7 L200.0,619.2 L202.2,617.6 L197.1,651.0 L195.5,639.7 L197.1,630.2 L198.7,619.1 L200.3,611.2 L205.0,604.9 L214.5,597.0 L225.6,587.5 L236.7,581.9 L244.6,576.4 L257.3,570.0 L271.6,566.8Z" fill="#20b2aa"/>
<path d="M286.0,566.8 L296.6,562.9 L312.5,565.3 L317.2,573.2 L322.0,582.7 L326.7,590.6 L322.0,595.4 L315.6,600.1 L314.0,604.9 L317.2,611.2 L323.5,617.6 L333.1,620.7 L362.7,628.0 L367.8,636.8 L367.9,650.4 L366.3,664.3 L368.7,670.4 L378.0,676.5 L383.4,683.7 L388.4,696.7 L390.1,712.1 L385.0,722.5 L381.6,730.8 L373.4,739.1 L367.5,746.4 L364.7,754.8 L365.8,763.9 L363.9,773.0 L356.8,781.9 L346.4,787.2 L333.4,790.4 L320.7,793.6 L320.0,796.5 L306.6,798.1 L289.1,795.0 L276.5,790.2 L265.4,783.9 L255.8,776.0 L246.3,766.5 L235.9,762.1 L225.8,758.3 L215.6,753.2 L205.5,748.2 L197.9,741.8 L191.6,733.0 L186.5,721.6 L182.0,710.1 L180.1,700.0 L176.8,704.0 L177.0,696.1 L178.5,685.7 L179.8,680.6 L181.6,675.7 L184.8,672.1 L187.4,665.5 L200.8,645.4 L198.7,643.3 L195.8,639.9 L192.3,637.5 L195.1,632.0 L197.3,623.9 L200.5,619.0 L204.1,615.9 L208.6,612.7 L197.9,651.0 L197.1,646.1 L198.7,635.0 L199.5,625.5 L201.1,616.0 L203.4,609.6 L211.4,601.7 L222.5,593.8 L233.5,587.5 L244.6,581.1 L257.3,574.8 L270.0,571.6Z" fill="#b0e0e6"/>
<path d="M286.0,570.0 L288.7,571.6 L301.4,578.0 L307.7,582.7 L314.0,587.5 L312.5,593.8 L304.5,597.0 L307.7,601.7 L314.0,606.5 L322.0,614.4 L331.5,619.1 L361.8,628.6 L366.8,637.0 L366.9,650.3 L365.3,664.4 L368.0,671.1 L377.3,677.2 L382.5,684.2 L387.4,696.9 L389.1,712.0 L384.1,722.0 L380.7,730.2 L372.7,738.4 L366.7,746.0 L363.7,754.7 L364.8,763.9 L363.0,772.6 L356.2,781.2 L346.1,786.3 L333.2,789.4 L320.5,792.6 L320.0,794.7 L308.1,795.8 L292.3,793.4 L279.6,787.1 L268.5,780.7 L257.4,771.2 L247.9,763.3 L238.5,760.9 L228.3,757.1 L218.2,752.0 L208.0,746.9 L200.4,740.6 L194.1,731.7 L189.0,720.3 L185.2,708.9 L183.9,700.0 L183.2,706.1 L182.4,697.8 L183.5,687.0 L184.9,681.4 L187.2,676.6 L191.8,673.1 L195.3,666.6 L203.7,651.6 L200.5,648.4 L196.8,643.1 L192.8,639.1 L195.1,632.0 L198.0,623.9 L202.8,617.3 L208.2,612.6 L215.0,607.8 L198.7,651.0 L199.5,639.7 L200.3,630.2 L201.8,622.3 L203.4,614.4 L211.4,606.5 L220.9,598.5 L232.0,592.2 L243.1,585.1 L257.3,579.5 L270.0,576.4Z" fill="#789bf2"/>
<path d="M286.0,576.4 L293.4,582.7 L295.0,589.0 L290.3,593.8 L289.0,597.0 L295.0,601.2 L307.7,603.5 L317.2,609.6 L322.0,616.0 L333.1,619.0 L361.0,629.1 L365.9,637.3 L365.9,650.3 L364.3,664.4 L367.2,671.7 L376.7,678.0 L381.6,684.6 L386.5,697.2 L388.1,711.8 L383.2,721.6 L379.9,729.7 L371.9,737.8 L365.8,745.5 L362.7,754.6 L363.8,763.8 L362.1,772.1 L355.5,780.4 L345.7,785.3 L332.9,788.5 L320.2,791.7 L320.0,793.1 L308.1,792.6 L293.9,790.2 L281.2,783.9 L270.1,776.0 L259.0,766.5 L249.5,758.5 L240.0,756.9 L230.9,755.8 L220.7,750.7 L210.6,745.6 L203.0,739.3 L196.6,730.4 L191.6,720.3 L188.4,708.9 L187.1,700.0 L187.7,707.5 L186.2,698.9 L186.9,687.8 L188.4,681.9 L191.2,677.1 L196.6,673.8 L200.7,667.3 L205.8,655.9 L201.8,651.9 L197.6,645.3 L193.1,640.1 L195.0,632.0 L198.5,624.0 L204.4,616.2 L211.1,610.3 L219.5,604.4 L200.3,651.0 L201.1,636.6 L202.6,625.5 L205.0,617.6 L211.4,611.2 L220.9,601.7 L232.0,595.4 L243.1,589.0 L258.9,582.7 L270.0,579.5Z" fill="#3c64e6"/>
<path d="M168.0,650.0 C171.3,647.0 179.7,646.3 185.0,647.0 C190.3,647.7 196.2,651.3 200.0,654.0 C203.8,656.7 207.2,660.0 208.0,663.0 C208.8,666.0 208.0,669.8 205.0,672.0 C202.0,674.2 195.5,675.3 190.0,676.0 C184.5,676.7 176.2,677.8 172.0,676.0 C167.8,674.2 165.7,669.3 165.0,665.0 C164.3,660.7 164.7,653.0 168.0,650.0Z" fill="#bef264"/>
<path d="M172.0,658.0 C175.0,655.7 182.5,655.5 187.0,656.0 C191.5,656.5 196.0,658.8 199.0,661.0 C202.0,663.2 205.0,666.3 205.0,669.0 C205.0,671.7 202.2,675.0 199.0,677.0 C195.8,679.0 190.2,680.3 186.0,681.0 C181.8,681.7 176.8,682.8 174.0,681.0 C171.2,679.2 169.3,673.8 169.0,670.0 C168.7,666.2 169.0,660.3 172.0,658.0Z" fill="#20b2aa"/>
<path d="M180.0,674.0 C182.8,672.0 192.7,671.2 198.0,672.0 C203.3,672.8 208.7,676.3 212.0,679.0 C215.3,681.7 219.3,686.0 218.0,688.0 C216.7,690.0 208.7,690.7 204.0,691.0 C199.3,691.3 193.8,691.2 190.0,690.0 C186.2,688.8 182.7,686.7 181.0,684.0 C179.3,681.3 177.2,676.0 180.0,674.0Z" fill="#b0e0e6"/>
<path d="M186.0,680.0 C188.0,677.7 195.7,677.3 200.0,678.0 C204.3,678.7 209.7,682.0 212.0,684.0 C214.3,686.0 216.0,688.5 214.0,690.0 C212.0,691.5 204.3,692.7 200.0,693.0 C195.7,693.3 190.3,694.2 188.0,692.0 C185.7,689.8 184.0,682.3 186.0,680.0Z" fill="#789bf2"/>
<path d="M286.0,602.0 L295.0,603.3 L307.7,604.9 L317.2,611.2 L322.0,617.6 L333.1,620.7 L344.1,625.5 L355.2,628.7 L360.1,629.6 L364.9,637.5 L364.9,650.2 L363.3,664.5 L366.5,672.4 L376.0,678.7 L380.7,685.1 L385.5,697.4 L387.1,711.7 L382.3,721.2 L379.1,729.1 L371.2,737.1 L364.9,745.0 L361.7,754.5 L362.8,763.8 L361.2,771.7 L354.9,779.6 L345.4,784.4 L332.7,787.5 L320.0,790.7 L306.6,789.4 L292.3,787.1 L281.2,780.7 L271.7,771.2 L262.2,761.7 L252.7,755.4 L240.0,753.8 L233.4,753.2 L223.2,749.4 L214.4,744.4 L206.8,738.0 L200.4,730.4 L195.4,720.3 L192.2,708.9 L190.0,700.0 L190.4,688.7 L192.0,682.4 L195.1,677.7 L201.5,674.5 L206.2,668.1 L207.8,660.2 L203.1,655.5 L198.3,647.5 L193.5,641.2 L195.0,632.0 L199.0,624.0 L206.0,615.0 L214.0,608.0 L224.0,601.0 L238.3,593.8 L246.2,590.6 L257.3,591.4 L265.2,595.4 L274.7,601.7Z" fill="#0000c8"/>
<path d="M286.0,609.6 L295.0,609.6 L304.5,614.4 L314.0,617.6 L323.5,620.7 L333.1,625.5 L345.8,628.0 L358.5,632.8 L361.7,637.5 L360.1,650.2 L358.5,661.3 L361.7,672.4 L369.6,678.7 L377.5,686.0 L382.3,699.0 L383.9,711.7 L377.5,721.2 L376.0,727.5 L366.5,737.1 L361.7,743.4 L356.9,751.3 L353.8,762.4 L348.5,768.5 L342.2,767.7 L335.8,770.1 L332.7,774.9 L327.9,781.2 L320.0,785.2 L309.7,783.9 L297.1,782.3 L287.5,777.5 L278.0,768.0 L268.5,760.1 L250.0,748.2 L241.0,747.5 L230.9,745.6 L220.7,743.1 L211.8,738.0 L205.5,731.7 L200.4,721.6 L197.3,710.1 L196.6,700.0 L198.3,691.9 L206.2,686.4 L217.3,685.6 L228.4,682.4 L220.5,671.3 L209.4,660.2 L206.0,649.0 L202.5,644.0 L203.5,634.0 L207.0,625.0 L212.0,617.0 L220.0,611.0 L232.0,604.9 L243.1,600.1 L252.6,600.1 L262.1,601.7 L266.8,608.1 L276.0,609.6Z" fill="#9370db"/>
<path d="M240.0,746.6 L254.3,745.8 L262.2,739.5 L266.9,734.8 L271.7,732.4 L287.5,730.8 L300.2,732.4 L305.0,739.5 L303.4,750.6 L295.5,756.9 L281.2,758.5 L268.5,761.7 L259.0,756.9 L249.5,755.4 L240.0,755.4Z" fill="#0000c8"/>
<path d="M264.8,740.8 C265.2,739.0 266.1,736.8 267.9,735.3 C269.8,733.8 272.5,732.9 275.8,732.1 C279.1,731.4 284.0,730.9 287.7,730.9 C291.4,730.9 295.7,731.3 298.0,732.1 C300.4,733.0 301.2,734.2 302.0,736.1 C302.8,737.9 303.1,741.1 302.8,743.2 C302.5,745.3 301.6,747.2 300.4,748.8 C299.2,750.4 297.8,751.7 295.7,752.7 C293.5,753.8 290.8,754.8 287.7,755.1 C284.7,755.4 280.5,755.1 277.4,754.3 C274.4,753.5 271.5,751.7 269.5,750.4 C267.5,749.0 266.3,748.0 265.5,746.4 C264.8,744.8 264.4,742.7 264.8,740.8Z" fill="#3c64e6"/>
<path d="M265.9,740.8 C266.3,739.2 266.9,737.4 268.7,736.1 C270.5,734.8 273.5,733.6 276.6,732.9 C279.8,732.2 284.2,732.0 287.7,732.0 C291.2,732.0 295.4,732.2 297.6,732.9 C299.9,733.7 300.6,734.8 301.4,736.5 C302.1,738.2 302.3,741.2 302.0,743.2 C301.7,745.2 300.8,746.9 299.6,748.4 C298.4,749.8 296.8,751.0 294.9,751.9 C292.9,752.9 290.6,753.9 287.7,754.1 C284.9,754.3 280.7,754.0 277.8,753.3 C274.9,752.5 272.2,750.8 270.3,749.6 C268.5,748.3 267.5,747.5 266.7,746.0 C266.0,744.5 265.6,742.5 265.9,740.8Z" fill="#789bf2"/>
<path d="M267.1,741.2 C267.5,739.8 268.2,738.1 269.9,736.9 C271.6,735.7 274.5,734.5 277.4,733.9 C280.4,733.2 284.4,733.0 287.7,732.9 C291.0,732.9 295.1,733.1 297.2,733.7 C299.4,734.4 300.1,735.3 300.8,736.9 C301.5,738.5 301.7,741.4 301.4,743.2 C301.1,745.1 300.2,746.7 299.0,748.0 C297.8,749.3 296.1,750.3 294.2,751.1 C292.4,752.0 290.4,752.9 287.7,753.1 C285.1,753.3 281.0,753.0 278.2,752.3 C275.5,751.6 272.8,750.0 271.1,748.9 C269.4,747.8 268.6,747.0 267.9,745.8 C267.3,744.5 266.8,742.7 267.1,741.2Z" fill="#b0e0e6"/>
<path d="M268.3,741.5 C268.7,740.2 269.4,738.8 271.1,737.7 C272.7,736.6 275.5,735.5 278.2,734.9 C281.0,734.3 284.6,733.9 287.7,733.9 C290.8,733.8 294.7,733.9 296.8,734.5 C299.0,735.1 299.8,735.9 300.4,737.3 C301.1,738.7 301.1,741.3 300.8,743.1 C300.5,744.8 299.6,746.4 298.4,747.6 C297.2,748.8 295.5,749.6 293.7,750.4 C291.9,751.1 290.2,752.0 287.7,752.2 C285.2,752.4 281.3,752.0 278.6,751.4 C276.0,750.8 273.5,749.4 271.9,748.4 C270.3,747.4 269.7,746.6 269.1,745.4 C268.5,744.3 268.0,742.8 268.3,741.5Z" fill="#20b2aa"/>
<path d="M269.5,741.6 C269.8,740.5 270.7,739.4 272.3,738.5 C273.9,737.5 276.4,736.5 279.0,735.9 C281.6,735.3 284.8,734.9 287.7,734.8 C290.6,734.7 294.4,734.8 296.5,735.3 C298.5,735.8 299.4,736.4 300.0,737.7 C300.7,738.9 300.8,741.3 300.4,742.9 C300.1,744.5 299.1,746.1 297.9,747.2 C296.7,748.3 294.8,748.9 293.1,749.6 C291.4,750.2 290.1,751.0 287.7,751.1 C285.4,751.3 281.5,750.9 279.0,750.4 C276.5,749.8 274.1,748.7 272.7,747.8 C271.2,747.0 270.8,746.2 270.3,745.2 C269.8,744.2 269.2,742.8 269.5,741.6Z" fill="#bef264"/>
<path d="M271.1,741.8 C271.4,740.8 272.0,740.1 273.5,739.3 C274.9,738.4 277.4,737.5 279.8,736.9 C282.3,736.3 285.4,735.8 288.1,735.7 C290.8,735.6 294.1,735.7 296.1,736.1 C298.0,736.5 299.0,737.0 299.6,738.1 C300.3,739.2 300.4,741.3 300.0,742.7 C299.6,744.2 298.5,745.8 297.2,746.8 C296.0,747.8 294.1,748.2 292.5,748.8 C290.9,749.3 289.8,750.1 287.7,750.2 C285.6,750.3 282.1,749.9 279.8,749.4 C277.5,748.9 275.2,747.9 273.9,747.2 C272.5,746.4 272.2,745.9 271.7,745.0 C271.3,744.1 270.8,742.7 271.1,741.8Z" fill="#f5deb3"/>
<path d="M272.7,742.0 C272.9,741.1 273.3,740.6 274.7,739.9 C276.0,739.2 278.3,738.2 280.6,737.7 C282.9,737.1 286.0,736.6 288.5,736.5 C291.0,736.3 293.8,736.4 295.7,736.7 C297.5,737.1 298.7,737.5 299.4,738.5 C300.0,739.4 300.0,741.3 299.6,742.6 C299.2,743.9 298.1,745.5 296.8,746.4 C295.6,747.3 293.6,747.7 292.1,748.1 C290.6,748.6 289.6,749.2 287.7,749.2 C285.8,749.3 282.7,749.1 280.6,748.6 C278.5,748.2 276.3,747.2 275.1,746.6 C273.8,745.9 273.5,745.6 273.1,744.8 C272.7,744.0 272.4,742.8 272.7,742.0Z" fill="#dcb487"/>
<path d="M273.9,742.0 C274.1,741.3 274.6,741.0 275.8,740.5 C277.1,739.9 279.2,739.0 281.4,738.5 C283.6,737.9 286.6,737.5 288.9,737.3 C291.3,737.1 293.8,737.0 295.5,737.3 C297.2,737.5 298.6,738.0 299.2,738.9 C299.9,739.8 299.8,741.4 299.4,742.6 C298.9,743.8 297.7,745.2 296.5,746.0 C295.2,746.8 293.1,747.2 291.7,747.6 C290.2,748.0 289.5,748.4 287.7,748.5 C286.0,748.5 283.3,748.2 281.4,747.8 C279.5,747.4 277.4,746.5 276.2,746.0 C275.1,745.5 274.7,745.3 274.3,744.7 C273.9,744.0 273.6,742.7 273.9,742.0Z" fill="#ffd700"/>
<path d="M275.5,742.0 C275.7,741.4 276.2,741.3 277.4,740.8 C278.6,740.4 280.6,739.7 282.6,739.3 C284.6,738.8 287.2,738.3 289.3,738.1 C291.4,737.8 293.7,737.6 295.3,737.8 C297.0,738.0 298.4,738.5 299.1,739.3 C299.7,740.1 299.7,741.5 299.2,742.6 C298.7,743.6 297.4,744.9 296.1,745.6 C294.7,746.3 292.7,746.7 291.3,747.0 C289.9,747.4 289.3,747.7 287.7,747.7 C286.2,747.7 283.9,747.4 282.2,747.0 C280.5,746.6 278.5,745.9 277.4,745.4 C276.4,745.0 276.2,745.0 275.8,744.4 C275.5,743.8 275.2,742.6 275.5,742.0Z" fill="#ffa000"/>
<path d="M277.0,742.0 C277.3,741.5 277.9,741.6 279.0,741.2 C280.1,740.9 282.0,740.3 283.8,739.9 C285.6,739.5 287.8,738.9 289.7,738.6 C291.6,738.4 293.7,738.1 295.2,738.3 C296.7,738.5 298.3,738.9 298.9,739.7 C299.5,740.4 299.5,741.7 299.0,742.6 C298.4,743.5 297.0,744.6 295.7,745.3 C294.3,745.9 292.2,746.3 290.9,746.6 C289.6,746.8 289.1,747.1 287.7,747.0 C286.4,747.0 284.5,746.7 283.0,746.4 C281.5,746.1 279.5,745.3 278.6,745.0 C277.7,744.6 277.7,744.7 277.4,744.2 C277.2,743.7 276.8,742.5 277.0,742.0Z" fill="#ff4500"/>
<path d="M279.0,742.0 C279.1,741.4 280.3,741.5 281.4,741.2 C282.5,741.0 283.9,740.6 285.4,740.3 C286.8,739.9 288.5,739.4 290.1,739.1 C291.7,738.8 293.6,738.5 295.0,738.6 C296.5,738.8 298.2,739.4 298.8,740.1 C299.5,740.7 299.4,741.8 298.8,742.6 C298.2,743.4 296.6,744.4 295.3,745.0 C293.9,745.5 291.8,745.8 290.5,746.1 C289.3,746.3 288.9,746.4 287.7,746.4 C286.6,746.3 285.0,746.1 283.8,745.8 C282.6,745.5 281.4,745.3 280.6,744.7 C279.8,744.0 278.9,742.5 279.0,742.0Z" fill="#b22222"/>
<path d="M280.6,741.8 C280.3,741.1 282.2,741.4 283.8,740.8 C285.4,740.3 287.7,739.1 290.1,738.5 C292.5,737.8 296.3,736.5 298.0,736.9 C299.8,737.3 300.3,739.4 300.4,740.8 C300.5,742.3 300.3,744.7 298.8,745.6 C297.4,746.5 293.9,746.5 291.7,746.4 C289.5,746.3 287.2,745.6 285.4,744.8 C283.5,744.0 280.9,742.5 280.6,741.8Z" fill="#ffb6c1"/>
<path d="M287.3,741.8 C287.5,741.0 291.9,740.2 293.7,739.7 C295.5,739.3 297.3,738.5 298.2,739.1 C299.1,739.7 299.7,742.2 298.8,743.1 C297.9,744.0 294.8,744.7 292.9,744.5 C291.0,744.3 287.2,742.6 287.3,741.8Z" fill="#ff1493"/>
<path d="M277.8,687.5 L271.7,680.6 L270.9,671.8 L273.5,663.1 L281.3,652.7 L285.5,639.7 L290.0,633.1 L298.7,629.6 L312.7,628.7 L324.9,633.9 L333.6,642.7 L340.6,651.4 L345.8,656.6 L342.3,661.8 L338.8,667.1 L340.6,674.0 L349.3,681.0 L356.2,688.0 L358.0,696.7 L356.2,707.2 L351.0,714.1 L340.6,719.4 L328.4,722.9 L316.2,724.6 L303.9,724.6 L295.2,721.1 L290.0,717.6 L291.8,706.7 L288.3,699.7 L283.1,694.5Z" fill="#0000c8"/>
<path d="M279.6,685.8 L274.4,675.3 L276.1,663.1 L284.8,654.4 L290.0,645.0 L300.5,635.7 L314.4,633.1 L326.6,639.2 L335.3,647.9 L340.6,654.9 L335.3,663.6 L333.6,670.6 L338.8,677.5 L349.3,686.2 L352.8,696.7 L351.0,707.2 L344.0,714.1 L331.8,717.6 L317.9,719.4 L305.7,719.4 L297.0,715.9 L293.5,703.2 L288.3,696.2Z" fill="#3c64e6"/>
<path d="M281.3,682.3 L277.8,673.6 L279.6,663.1 L288.3,652.7 L297.0,643.9 L309.2,638.0 L314.4,638.5 L324.0,643.0 L332.0,650.0 L336.0,655.0 L331.0,664.0 L330.0,671.0 L335.0,679.0 L346.0,688.0 L349.0,697.0 L347.0,706.0 L341.0,711.0 L330.0,714.0 L318.0,716.0 L306.0,716.0 L299.0,712.0 L295.3,700.0 L288.3,689.3Z" fill="#789bf2"/>
<path d="M283.1,680.6 L279.6,671.8 L283.1,659.6 L290.0,652.0 L307.4,647.9 L324.9,651.4 L335.3,654.9 L338.0,661.8 L333.0,672.3 L338.0,679.3 L345.0,689.7 L340.0,693.2 L324.9,689.7 L307.4,688.0 L290.0,688.0Z" fill="#b0e0e6"/>
<path d="M281.3,678.8 L279.6,668.4 L284.8,656.2 L293.5,655.0 L303.9,658.4 L321.4,661.8 L334.0,663.6 L332.0,672.3 L340.0,682.8 L345.0,689.0 L335.3,686.2 L321.4,681.0 L303.9,677.5 L290.0,680.6Z" fill="#20b2aa"/>
<path d="M279.6,666.6 L286.6,656.2 L295.3,656.2 L303.1,664.9 L302.2,673.6 L291.8,680.6 L281.3,682.3Z" fill="#bef264"/>
<path d="M282.2,670.1 L288.3,659.6 L295.3,661.4 L297.9,668.4 L293.5,675.3 L284.8,677.9Z" fill="#f5deb3"/>
<path d="M283.1,671.0 L288.3,661.4 L294.4,663.1 L296.1,668.4 L291.8,674.5 L284.8,676.2Z" fill="#dcb487"/>
<path d="M285.7,671.0 L289.2,669.2 L290.0,672.7 L286.6,673.6Z" fill="#ffd700"/>
<path d="M324.9,665.3 L331.8,663.6 L333.6,672.3 L328.4,674.0Z" fill="#bef264"/>
<path d="M312.0,637.0 L322.0,640.0 L326.0,646.0 L316.0,646.0 L310.0,642.0Z" fill="#789bf2"/>
<path d="M303.9,707.2 L314.4,705.4 L316.2,717.6 L307.4,719.4Z" fill="#b0e0e6"/>
<path d="M305.7,710.7 L310.9,708.9 L312.7,716.8 L307.4,717.6Z" fill="#20b2aa"/>
<path d="M255.2,701.5 L262.2,696.2 L276.1,694.5 L286.6,701.5 L291.8,708.5 L297.0,718.9 L300.5,729.4 L298.8,733.0 L270.0,733.0 L265.6,727.6 L258.7,711.9Z" fill="#0000c8"/>
<path d="M265.6,703.2 L276.1,699.7 L284.8,705.0 L290.0,713.7 L295.3,724.1 L293.5,731.1 L283.1,729.4 L274.4,720.7 L267.4,711.9Z" fill="#3c64e6"/>
<path d="M269.1,705.0 L274.4,703.2 L281.3,710.2 L288.3,718.9 L290.0,725.9 L283.1,725.0 L276.1,717.2Z" fill="#789bf2"/>
<path d="M226.0,650.0 L236.0,645.0 L243.0,642.5 L255.2,642.2 L262.2,647.4 L262.2,661.4 L255.2,668.4 L243.0,670.1 L232.0,671.0 L226.0,664.0Z" fill="#0000c8"/>
<path d="M229.0,651.0 L243.0,645.0 L255.0,645.0 L260.0,649.0 L260.0,660.0 L254.0,666.0 L243.0,668.0 L230.0,665.0Z" fill="#3c64e6"/>
<path d="M231.0,652.0 L243.0,647.0 L254.0,647.0 L258.0,650.0 L258.0,659.0 L253.0,664.0 L243.0,666.0 L232.0,663.0Z" fill="#789bf2"/>
<path d="M233.0,653.0 L243.0,649.0 L253.0,649.0 L256.0,652.0 L256.0,658.0 L252.0,662.0 L243.0,664.0 L234.0,661.0Z" fill="#b0e0e6"/>
<path d="M235.0,654.0 L243.0,650.5 L252.0,651.0 L254.0,654.0 L254.0,658.0 L250.0,661.0 L243.0,662.0 L236.0,660.0Z" fill="#20b2aa"/>
<path d="M237.0,655.0 L244.0,652.0 L251.0,652.5 L252.0,656.0 L249.0,660.0 L243.0,660.5 L238.0,659.0Z" fill="#bef264"/>
<path d="M244.0,654.0 L249.0,654.0 L249.0,658.0 L245.0,659.0Z" fill="#dcb487"/>
<path d="M320.0,785.2 L327.9,781.2 L332.7,774.9 L335.8,770.1 L342.2,767.7 L348.5,768.5 L353.3,763.8 L358.0,758.0 L356.0,770.0 L350.0,778.0 L340.0,784.0 L325.0,788.0Z" fill="#0000c8"/>
</g>
<path d="M200.6,631.4 L201.1,633.8 L201.6,636.1 L201.4,638.6 L200.8,641.7 L200.6,644.9 L202.7,647.0 L203.8,649.7 L205.3,651.7 L206.9,653.7 L209.3,653.5 L211.7,653.7 L214.2,653.4 L216.5,654.4 L219.7,654.4 L222.8,654.4 L225.2,654.9 L227.0,656.5 L229.1,657.6 L231.8,658.7 L233.9,660.8 L235.9,662.6 L237.1,664.9 L238.6,667.1 L240.2,670.3 L242.2,668.2 L243.4,665.5 L245.3,664.0 L247.4,663.1 L249.7,662.4 L252.9,661.8 L256.1,660.8 L257.7,658.9 L258.3,656.6 L259.2,654.4 L259.3,651.8 L260.4,649.2 L260.0,646.5 L260.2,643.7 L262.1,641.4 L262.4,638.6 L262.9,636.1 L264.0,633.8 L264.6,631.5 L265.7,629.4 L267.2,627.5 L268.5,625.0 L270.3,622.7 L271.9,619.6 L275.1,618.8 L278.3,616.4 L281.4,618.0 L284.6,615.6 L287.8,617.2 L291.1,614.8 L294.6,615.4 L297.0,616.3 L299.7,616.0 L302.1,616.9 L304.5,617.4 L306.9,617.8 L309.3,617.8 L311.7,618.3 L314.0,618.8 L316.5,618.5 L318.9,618.9 L321.1,619.9 L323.4,620.0 L325.5,621.2 L327.8,621.4 L330.0,621.8 L332.2,622.6 L333.0,625.5 L334.1,628.3 L337.0,628.2 L339.8,628.3 L342.5,628.8 L345.1,629.9 L348.0,631.4 L351.2,632.1 L353.6,633.6 L356.4,634.3 L358.8,635.9 L360.8,637.1 L363.0,638.2 L363.3,640.4 L363.1,642.7 L363.6,644.8 L364.5,647.0 L364.5,649.2 L362.9,651.8 L362.6,654.9 L362.5,657.6 L361.4,660.0 L360.7,662.5 L362.4,664.1 L364.8,664.6 L366.4,666.3 L367.8,668.2 L369.8,669.8 L370.5,672.2 L372.1,674.0 L372.4,676.3 L373.2,678.5 L373.5,680.9 L374.8,682.9 L375.2,685.2 L375.2,687.5 L375.7,689.7 L376.0,691.9 L376.5,694.2 L376.8,696.4 L376.6,698.8 L376.7,701.2 L377.6,703.5 L377.6,706.0 L378.7,708.2 L378.4,710.7 L377.0,712.5 L375.8,714.5 L374.2,716.3 L373.6,718.6 L372.4,720.9 L372.1,723.4 L371.3,726.1 L370.1,728.7 L368.9,731.3 L366.4,732.7 L364.1,734.4 L364.0,737.0 L362.6,739.2 L361.0,740.8 L359.4,742.4 L358.2,744.8 L356.6,746.9 L354.6,748.7 L356.2,751.9 L354.2,754.0 L351.5,755.0 L349.1,756.3 L347.5,758.6 L345.1,759.8 L342.0,760.9 L338.8,761.4 L336.4,762.3 L334.0,763.0 L331.3,763.0 L328.8,764.6 L326.1,764.5 L323.6,764.2 L321.2,763.7 L318.0,764.0 L314.8,764.4 L312.6,763.1 L310.1,762.9 L307.6,762.9 L305.3,763.7 L302.3,762.4 L299.0,762.1 L297.4,758.1 L299.0,754.9 L299.5,752.4 L300.5,750.1 L301.2,747.7 L302.2,745.4 L302.3,742.9 L302.0,740.5 L300.5,738.4 L300.6,735.9 L298.2,732.7 L298.2,729.5 L299.0,726.4 L297.4,724.7 L296.2,722.8 L295.2,720.7 L294.1,718.7 L292.7,716.9 L290.8,715.5 L288.8,714.2 L287.5,712.2 L285.7,710.6 L284.1,708.9 L281.6,707.6 L279.4,705.9 L276.6,705.3 L275.1,708.0 L274.1,710.9 L273.1,713.9 L272.1,716.9 L270.9,719.5 L269.7,722.1 L268.9,724.8 L270.0,727.3 L269.4,730.2 L270.5,732.7 L268.6,734.0 L267.3,735.9 L266.1,734.0 L264.5,732.5 L262.6,731.2 L260.3,732.9 L257.8,734.3 L255.5,734.0 L253.2,733.9 L251.1,732.9 L248.2,731.9 L245.1,731.2 L243.5,729.3 L242.4,727.2 L241.9,724.8 L238.9,724.8 L236.1,723.9 L233.0,722.0 L231.6,719.6 L231.1,716.9 L230.3,714.8 L229.9,712.5 L228.1,708.9 L226.8,706.1 L226.7,703.0 L224.4,702.0 L221.2,700.4 L218.0,702.0 L216.9,699.7 L217.2,697.2 L217.3,694.5 L217.7,691.8 L218.8,689.3 L218.9,686.6 L218.7,684.0 L219.6,681.4 L220.6,678.9 L220.8,676.2 L221.2,673.5 L224.1,670.9 L223.1,666.9 L220.8,668.4 L218.1,668.9 L215.0,668.2 L212.1,666.9 L210.1,664.8 L208.5,662.4 L206.8,660.9 L205.0,659.6 L203.8,657.6 L203.0,654.4 L202.2,651.8 L200.6,649.7 L198.2,646.5 L198.1,643.9 L196.6,641.8 L197.0,638.6 L197.4,635.4 L199.0,631.5Z" fill="none" stroke="#000" stroke-width="1.05" stroke-linejoin="round"/><path d="M202.1,609.4 L205.1,608.9" stroke="#000" stroke-width="1.2"/><path d="M193.1,628.9 L193.6,634.9" stroke="#000" stroke-width="1.2"/><path d="M159.6,634.4 L157.6,642.9" stroke="#000" stroke-width="1.2"/><circle cx="286.2" cy="691" r="7.8" fill="#fff"/>
<circle cx="286.3" cy="690.4" r="138.2" fill="none" stroke="#222" stroke-width="1"/>
<text x="0" y="412.7" font-family="Liberation Serif" font-size="14" font-weight="normal" textLength="38.4" lengthAdjust="spacingAndGlyphs">MEAN=</text>
<text x="292.6" y="412.7" font-family="Liberation Serif" font-size="14" font-weight="normal" textLength="38.4" lengthAdjust="spacingAndGlyphs">MEAN=</text>
<text x="51.5" y="412.7" font-family="Liberation Serif" font-size="14" font-weight="normal" textLength="40.4" lengthAdjust="spacingAndGlyphs">190.44</text>
<text x="344.1" y="412.7" font-family="Liberation Serif" font-size="14" font-weight="normal" textLength="40.4" lengthAdjust="spacingAndGlyphs">214.46</text>
<text x="105.3" y="412.7" font-family="Liberation Serif" font-size="14" font-weight="normal" textLength="31.2" lengthAdjust="spacingAndGlyphs">Min=</text>
<text x="397.90000000000003" y="412.7" font-family="Liberation Serif" font-size="14" font-weight="normal" textLength="31.2" lengthAdjust="spacingAndGlyphs">Min=</text>
<text x="144.4" y="412.7" font-family="Liberation Serif" font-size="14" font-weight="normal" textLength="40.1" lengthAdjust="spacingAndGlyphs">113.25</text>
<text x="437.0" y="412.7" font-family="Liberation Serif" font-size="14" font-weight="normal" textLength="40.1" lengthAdjust="spacingAndGlyphs">132.09</text>
<text x="198.2" y="412.7" font-family="Liberation Serif" font-size="14" font-weight="normal" textLength="33.8" lengthAdjust="spacingAndGlyphs">Max=</text>
<text x="490.8" y="412.7" font-family="Liberation Serif" font-size="14" font-weight="normal" textLength="33.8" lengthAdjust="spacingAndGlyphs">Max=</text>
<text x="239.4" y="412.7" font-family="Liberation Serif" font-size="14" font-weight="normal" textLength="40.1" lengthAdjust="spacingAndGlyphs">338.01</text>
<text x="532.0" y="412.7" font-family="Liberation Serif" font-size="14" font-weight="normal" textLength="40.1" lengthAdjust="spacingAndGlyphs">346.58</text>
<rect x="5.70" y="421.4" width="16.79" height="13.800000000000011" fill="#9370db" stroke="#333" stroke-width="0.5"/>
<rect x="22.49" y="421.4" width="16.79" height="13.800000000000011" fill="#0000c8" stroke="#333" stroke-width="0.5"/>
<rect x="39.29" y="421.4" width="16.79" height="13.800000000000011" fill="#3c64e6" stroke="#333" stroke-width="0.5"/>
<rect x="56.08" y="421.4" width="16.79" height="13.800000000000011" fill="#789bf2" stroke="#333" stroke-width="0.5"/>
<rect x="72.88" y="421.4" width="16.79" height="13.800000000000011" fill="#b0e0e6" stroke="#333" stroke-width="0.5"/>
<rect x="89.67" y="421.4" width="16.79" height="13.800000000000011" fill="#20b2aa" stroke="#333" stroke-width="0.5"/>
<rect x="106.46" y="421.4" width="16.79" height="13.800000000000011" fill="#bef264" stroke="#333" stroke-width="0.5"/>
<rect x="123.26" y="421.4" width="16.79" height="13.800000000000011" fill="#98bc32" stroke="#333" stroke-width="0.5"/>
<rect x="140.05" y="421.4" width="16.79" height="13.800000000000011" fill="#f5deb3" stroke="#333" stroke-width="0.5"/>
<rect x="156.84" y="421.4" width="16.79" height="13.800000000000011" fill="#dcb487" stroke="#333" stroke-width="0.5"/>
<rect x="173.64" y="421.4" width="16.79" height="13.800000000000011" fill="#ffd700" stroke="#333" stroke-width="0.5"/>
<rect x="190.43" y="421.4" width="16.79" height="13.800000000000011" fill="#ffa000" stroke="#333" stroke-width="0.5"/>
<rect x="207.22" y="421.4" width="16.79" height="13.800000000000011" fill="#ff4500" stroke="#333" stroke-width="0.5"/>
<rect x="224.02" y="421.4" width="16.79" height="13.800000000000011" fill="#b22222" stroke="#333" stroke-width="0.5"/>
<rect x="240.81" y="421.4" width="16.79" height="13.800000000000011" fill="#ffb6c1" stroke="#333" stroke-width="0.5"/>
<rect x="257.61" y="421.4" width="16.79" height="13.800000000000011" fill="#ff1493" stroke="#333" stroke-width="0.5"/>
<rect x="298.10" y="421.4" width="16.79" height="13.800000000000011" fill="#9370db" stroke="#333" stroke-width="0.5"/>
<rect x="314.89" y="421.4" width="16.79" height="13.800000000000011" fill="#0000c8" stroke="#333" stroke-width="0.5"/>
<rect x="331.68" y="421.4" width="16.79" height="13.800000000000011" fill="#3c64e6" stroke="#333" stroke-width="0.5"/>
<rect x="348.46" y="421.4" width="16.79" height="13.800000000000011" fill="#789bf2" stroke="#333" stroke-width="0.5"/>
<rect x="365.25" y="421.4" width="16.79" height="13.800000000000011" fill="#b0e0e6" stroke="#333" stroke-width="0.5"/>
<rect x="382.04" y="421.4" width="16.79" height="13.800000000000011" fill="#20b2aa" stroke="#333" stroke-width="0.5"/>
<rect x="398.83" y="421.4" width="16.79" height="13.800000000000011" fill="#bef264" stroke="#333" stroke-width="0.5"/>
<rect x="415.61" y="421.4" width="16.79" height="13.800000000000011" fill="#98bc32" stroke="#333" stroke-width="0.5"/>
<rect x="432.40" y="421.4" width="16.79" height="13.800000000000011" fill="#f5deb3" stroke="#333" stroke-width="0.5"/>
<rect x="449.19" y="421.4" width="16.79" height="13.800000000000011" fill="#dcb487" stroke="#333" stroke-width="0.5"/>
<rect x="465.98" y="421.4" width="16.79" height="13.800000000000011" fill="#ffd700" stroke="#333" stroke-width="0.5"/>
<rect x="482.76" y="421.4" width="16.79" height="13.800000000000011" fill="#ffa000" stroke="#333" stroke-width="0.5"/>
<rect x="499.55" y="421.4" width="16.79" height="13.800000000000011" fill="#ff4500" stroke="#333" stroke-width="0.5"/>
<rect x="516.34" y="421.4" width="16.79" height="13.800000000000011" fill="#b22222" stroke="#333" stroke-width="0.5"/>
<rect x="533.12" y="421.4" width="16.79" height="13.800000000000011" fill="#ffb6c1" stroke="#333" stroke-width="0.5"/>
<rect x="549.91" y="421.4" width="16.79" height="13.800000000000011" fill="#ff1493" stroke="#333" stroke-width="0.5"/>
<text x="22.49375" y="450.8" font-family="Liberation Serif" font-size="13.2" font-weight="normal" text-anchor="middle" >0</text>
<text x="314.88750000000005" y="450.8" font-family="Liberation Serif" font-size="13.2" font-weight="normal" text-anchor="middle" >0</text>
<text x="56.08125" y="450.8" font-family="Liberation Serif" font-size="13.2" font-weight="normal" text-anchor="middle" >50</text>
<text x="348.46250000000003" y="450.8" font-family="Liberation Serif" font-size="13.2" font-weight="normal" text-anchor="middle" >50</text>
<text x="89.66875" y="450.8" font-family="Liberation Serif" font-size="13.2" font-weight="normal" text-anchor="middle" >100</text>
<text x="382.0375" y="450.8" font-family="Liberation Serif" font-size="13.2" font-weight="normal" text-anchor="middle" >100</text>
<text x="123.25625" y="450.8" font-family="Liberation Serif" font-size="13.2" font-weight="normal" text-anchor="middle" >150</text>
<text x="415.61250000000007" y="450.8" font-family="Liberation Serif" font-size="13.2" font-weight="normal" text-anchor="middle" >150</text>
<text x="156.84374999999997" y="450.8" font-family="Liberation Serif" font-size="13.2" font-weight="normal" text-anchor="middle" >200</text>
<text x="449.1875" y="450.8" font-family="Liberation Serif" font-size="13.2" font-weight="normal" text-anchor="middle" >200</text>
<text x="190.43124999999998" y="450.8" font-family="Liberation Serif" font-size="13.2" font-weight="normal" text-anchor="middle" >250</text>
<text x="482.76250000000005" y="450.8" font-family="Liberation Serif" font-size="13.2" font-weight="normal" text-anchor="middle" >250</text>
<text x="224.01874999999998" y="450.8" font-family="Liberation Serif" font-size="13.2" font-weight="normal" text-anchor="middle" >300</text>
<text x="516.3375000000001" y="450.8" font-family="Liberation Serif" font-size="13.2" font-weight="normal" text-anchor="middle" >300</text>
<text x="257.60625" y="450.8" font-family="Liberation Serif" font-size="13.2" font-weight="normal" text-anchor="middle" >350</text>
<text x="549.9125" y="450.8" font-family="Liberation Serif" font-size="13.2" font-weight="normal" text-anchor="middle" >350</text>
<text x="441" y="579.6" font-family="Liberation Serif" font-size="12" font-weight="normal" textLength="21.3" lengthAdjust="spacingAndGlyphs">MIN</text>
<text x="470.2" y="579.6" font-family="Liberation Serif" font-size="12" font-weight="normal" textLength="7.6" lengthAdjust="spacingAndGlyphs">=</text>
<text x="486" y="579.6" font-family="Liberation Serif" font-size="12" font-weight="normal" textLength="46.6" lengthAdjust="spacingAndGlyphs">&#8722;108.13</text>
<text x="545" y="579.6" font-family="Liberation Serif" font-size="12" font-weight="normal" textLength="22.8" lengthAdjust="spacingAndGlyphs">MAX</text>
<text x="575" y="579.6" font-family="Liberation Serif" font-size="12" font-weight="normal" textLength="8.0" lengthAdjust="spacingAndGlyphs">=</text>
<text x="597.6" y="579.6" font-family="Liberation Serif" font-size="12" font-weight="normal" textLength="36.4" lengthAdjust="spacingAndGlyphs">61.69</text>
<rect x="505.4" y="604.30" width="34.10000000000002" height="13.88" fill="#ff1493" stroke="#333" stroke-width="0.5"/>
<rect x="505.4" y="618.17" width="34.10000000000002" height="13.88" fill="#ffb6c1" stroke="#333" stroke-width="0.5"/>
<rect x="505.4" y="632.05" width="34.10000000000002" height="13.88" fill="#b22222" stroke="#333" stroke-width="0.5"/>
<rect x="505.4" y="645.92" width="34.10000000000002" height="13.88" fill="#ff4500" stroke="#333" stroke-width="0.5"/>
<rect x="505.4" y="659.80" width="34.10000000000002" height="13.88" fill="#ffa000" stroke="#333" stroke-width="0.5"/>
<rect x="505.4" y="673.67" width="34.10000000000002" height="13.88" fill="#ffd700" stroke="#333" stroke-width="0.5"/>
<rect x="505.4" y="687.55" width="34.10000000000002" height="13.88" fill="#dcb487" stroke="#333" stroke-width="0.5"/>
<rect x="505.4" y="701.42" width="34.10000000000002" height="13.88" fill="#f5deb3" stroke="#333" stroke-width="0.5"/>
<rect x="505.4" y="715.30" width="34.10000000000002" height="13.88" fill="#98bc32" stroke="#333" stroke-width="0.5"/>
<rect x="505.4" y="729.17" width="34.10000000000002" height="13.88" fill="#bef264" stroke="#333" stroke-width="0.5"/>
<rect x="505.4" y="743.05" width="34.10000000000002" height="13.88" fill="#20b2aa" stroke="#333" stroke-width="0.5"/>
<rect x="505.4" y="756.92" width="34.10000000000002" height="13.88" fill="#b0e0e6" stroke="#333" stroke-width="0.5"/>
<rect x="505.4" y="770.80" width="34.10000000000002" height="13.88" fill="#789bf2" stroke="#333" stroke-width="0.5"/>
<rect x="505.4" y="784.67" width="34.10000000000002" height="13.88" fill="#3c64e6" stroke="#333" stroke-width="0.5"/>
<rect x="505.4" y="798.55" width="34.10000000000002" height="13.88" fill="#0000c8" stroke="#333" stroke-width="0.5"/>
<rect x="505.4" y="812.42" width="34.10000000000002" height="13.88" fill="#9370db" stroke="#333" stroke-width="0.5"/>
<text x="548.3" y="622.175" font-family="Liberation Serif" font-size="12" font-weight="normal" textLength="14.2" lengthAdjust="spacingAndGlyphs">40</text>
<text x="548.3" y="636.05" font-family="Liberation Serif" font-size="12" font-weight="normal" textLength="14.2" lengthAdjust="spacingAndGlyphs">30</text>
<text x="548.3" y="649.925" font-family="Liberation Serif" font-size="12" font-weight="normal" textLength="14.2" lengthAdjust="spacingAndGlyphs">25</text>
<text x="548.3" y="663.8" font-family="Liberation Serif" font-size="12" font-weight="normal" textLength="14.2" lengthAdjust="spacingAndGlyphs">20</text>
<text x="548.3" y="677.675" font-family="Liberation Serif" font-size="12" font-weight="normal" textLength="14.2" lengthAdjust="spacingAndGlyphs">15</text>
<text x="548.3" y="691.55" font-family="Liberation Serif" font-size="12" font-weight="normal" textLength="14.2" lengthAdjust="spacingAndGlyphs">10</text>
<text x="551.8" y="705.425" font-family="Liberation Serif" font-size="12" font-weight="normal" textLength="7.2" lengthAdjust="spacingAndGlyphs">5</text>
<text x="551.8" y="719.3" font-family="Liberation Serif" font-size="12" font-weight="normal" textLength="7.2" lengthAdjust="spacingAndGlyphs">0</text>
<text x="547.6" y="733.175" font-family="Liberation Serif" font-size="12" font-weight="normal" textLength="15.6" lengthAdjust="spacingAndGlyphs">&#8722;5</text>
<text x="543.9" y="747.05" font-family="Liberation Serif" font-size="12" font-weight="normal" textLength="23.0" lengthAdjust="spacingAndGlyphs">&#8722;10</text>
<text x="543.9" y="760.925" font-family="Liberation Serif" font-size="12" font-weight="normal" textLength="23.0" lengthAdjust="spacingAndGlyphs">&#8722;15</text>
<text x="543.9" y="774.8" font-family="Liberation Serif" font-size="12" font-weight="normal" textLength="23.0" lengthAdjust="spacingAndGlyphs">&#8722;20</text>
<text x="543.9" y="788.675" font-family="Liberation Serif" font-size="12" font-weight="normal" textLength="23.0" lengthAdjust="spacingAndGlyphs">&#8722;25</text>
<text x="543.9" y="802.55" font-family="Liberation Serif" font-size="12" font-weight="normal" textLength="23.0" lengthAdjust="spacingAndGlyphs">&#8722;30</text>
<text x="543.9" y="816.425" font-family="Liberation Serif" font-size="12" font-weight="normal" textLength="23.0" lengthAdjust="spacingAndGlyphs">&#8722;40</text>
</svg>
</body></html>
